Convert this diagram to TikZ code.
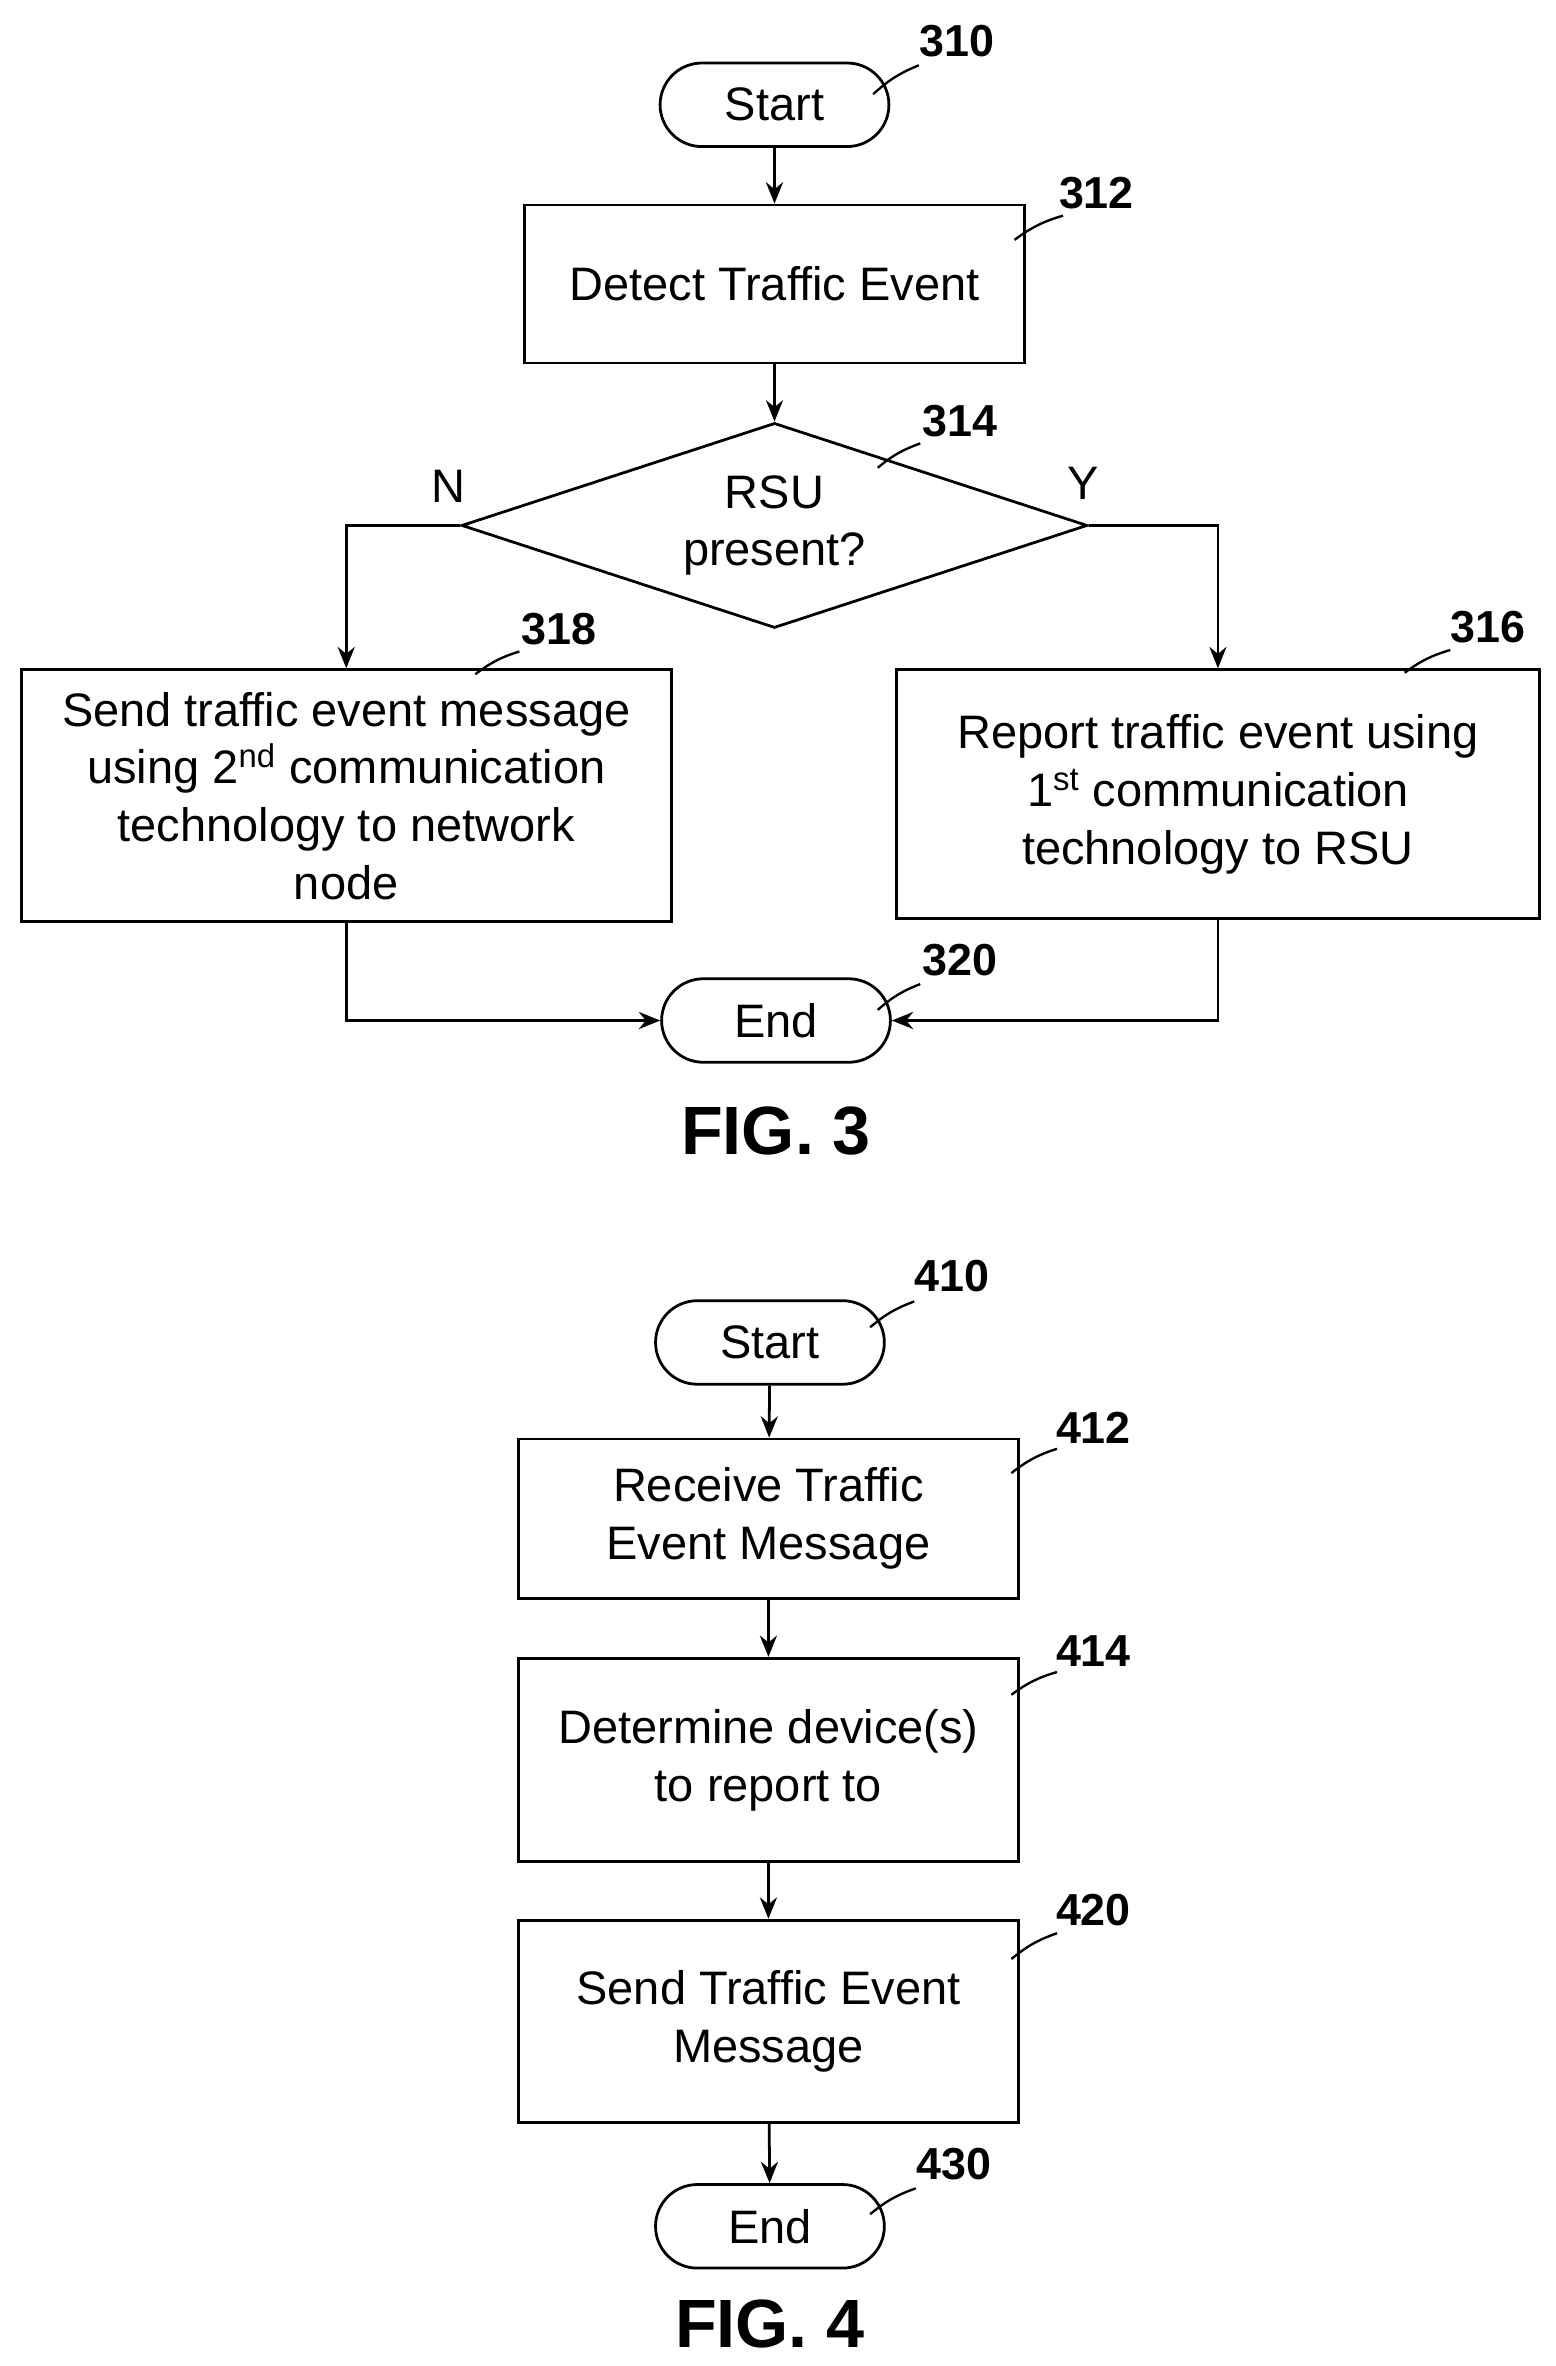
\documentclass[tikz,border=0pt]{standalone}
\usepackage{fontspec}
\setmainfont{Liberation Sans}
\usetikzlibrary{shapes.geometric,shapes.misc,arrows.meta}

\begin{document}
\begin{tikzpicture}[x=0.025cm,y=-0.025cm,
        every node/.style = {font=\fontsize{22}{27}\selectfont, align=center},
        box/.style = {draw, line width=1.3pt, rectangle, inner sep=2pt},
        term/.style = {draw, line width=1.3pt, rounded rectangle, minimum width=4cm, minimum height=1.375cm},
        ref/.style = {font=\fontsize{21}{24}\selectfont\bfseries},
        lead/.style = {line width=1.1pt, bend right=10},
        flow/.style = {draw, line width=1.3pt, -{Stealth[length=10pt,width=8pt]}}
        ]
    \useasboundingbox (0,0) rectangle (1024,1558);

    % FIG. 3
    \node[term] (s3) at (510,69) {Start};
    \node[box, minimum width=8.22cm, minimum height=2.6cm] (det) at (510,187) {Detect Traffic Event};
    \node[draw, line width=1.3pt, diamond, aspect=3.06, inner sep=0pt, minimum width=10.3cm, minimum height=3.375cm] (rsu) at (510,346) {RSU\\present?};
    \node[box, minimum width=10.7cm, minimum height=4.15cm] (send) at (228,524) {Send traffic event message\\using 2\textsuperscript{nd} communication\\technology to network\\node};
    \node[box, minimum width=10.58cm, minimum height=4.1cm] (rep) at (802,523) {Report traffic event using\\1\textsuperscript{st} communication\\technology to RSU};
    \node[term] (e3) at (511,672) {End};
    \node[font=\fontsize{32}{36}\selectfont\bfseries] (f3) at (511,745) {FIG. 3};

    \node at (295,320) {N};
    \node at (713,318) {Y};

    \draw[flow] (s3) -- (det);
    \draw[flow] (det) -- (rsu);
    \draw[flow] (rsu.west) -| (send.north);
    \draw[flow] (rsu.east) -| (rep.north);
    \draw[flow] (send.south) |- (e3.west);
    \draw[flow] (rep.south) |- (e3.east);

    % reference numbers
    \node[ref] (n310) at (630,27) {310};
    \node[ref] (n312) at (722,127) {312};
    \node[ref] (n314) at (632,277) {314};
    \node[ref] (n318) at (368,414) {318};
    \node[ref] (n316) at (980,413) {316};
    \node[ref] (n320) at (632,632) {320};
    \draw[lead] (605,43) to (575,62);
    \draw[lead] (700,142) to (668,158);
    \draw[lead] (606,292) to (578,308);
    \draw[lead] (342,429) to (313,444);
    \draw[lead] (955,428) to (925,443);
    \draw[lead] (606,648) to (578,665);

    % FIG. 4
    \node[term] (s4) at (507,884) {Start};
    \node[box, minimum width=8.22cm, minimum height=2.62cm] (recv) at (506,1000) {Receive Traffic\\Event Message};
    \node[box, minimum width=8.22cm, minimum height=3.35cm] (dtm) at (506,1159) {Determine device(s)\\to report to};
    \node[box, minimum width=8.22cm, minimum height=3.33cm] (snd) at (506,1331) {Send Traffic Event\\Message};
    \node[term] (e4) at (507,1466) {End};
    \node[font=\fontsize{32}{36}\selectfont\bfseries] (f4) at (507,1530) {FIG. 4};

    \draw[flow] (s4) -- (recv);
    \draw[flow] (recv) -- (dtm);
    \draw[flow] (dtm) -- (snd);
    \draw[flow] (snd) -- (e4);

    \node[ref] (n410) at (627,840) {410};
    \node[ref] (n412) at (720,940) {412};
    \node[ref] (n414) at (720,1087) {414};
    \node[ref] (n420) at (720,1258) {420};
    \node[ref] (n430) at (628,1425) {430};
    \draw[lead] (602,857) to (573,874);
    \draw[lead] (696,954) to (666,970);
    \draw[lead] (696,1101) to (666,1116);
    \draw[lead] (696,1273) to (666,1290);
    \draw[lead] (603,1441) to (573,1458);
\end{tikzpicture}
\end{document}
